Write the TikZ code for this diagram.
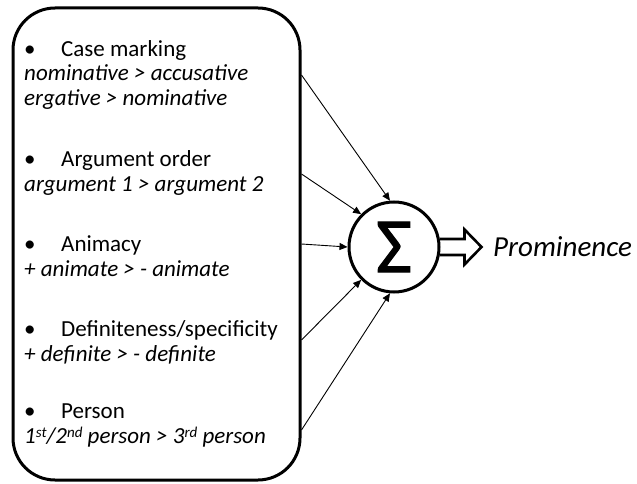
\documentclass[tikz,border=0pt]{standalone}
\usepackage{fontspec}
\setmainfont{Carlito}
\newfontfamily\sigmafont[FakeBold=1.5]{Carlito}
\usetikzlibrary{arrows.meta}
\begin{document}
\begin{tikzpicture}[x=1pt,y=-1pt,
  heading/.style={anchor=base west, inner sep=0pt, font=\fontsize{23}{25}\selectfont},
  example/.style={anchor=base west, inner sep=0pt, font=\fontsize{23}{25}\selectfont\itshape},
  frame/.style={draw, line width=3pt, rounded corners=42pt},
  feed/.style={draw, line width=0.9pt, -{Triangle[length=8pt,width=7pt]}},
  sumnode/.style={circle, draw, line width=3pt, minimum size=90pt, inner sep=0pt,
    font=\fontsize{78}{78}\sigmafont},
  blockarrow/.style={draw, line width=2.6pt, line join=miter},
]
\useasboundingbox (0,0) rectangle (637,484);

% list of prominence factors
\draw[frame] (13,8) rectangle (300,480);

\newcommand{\bul}{\makebox[37pt][l]{•}}
\newcommand{\sups}[1]{\raisebox{6pt}{\fontsize{15}{15}\selectfont #1}}
\node[heading] (case)  at (24,56.7)  {\bul Case marking};
\node[example] (case1) at (24,81)    {nominative > accusative};
\node[example] (case2) at (24,105.5) {ergative > nominative};

\node[heading] (order)  at (24,166.7) {\bul Argument order};
\node[example] (order1) at (24,191.7) {argument 1 > argument 2};

\node[heading] (anim)  at (24,251.7) {\bul Animacy};
\node[example] (anim1) at (24,276.7) {+ animate > - animate};

\node[heading] (defin)  at (24,336.7) {\bul Definiteness/specificity};
\node[example] (defin1) at (24,361.7) {+ definite > - definite};

\node[heading] (pers)  at (24,418.3) {\bul Person};
\node[example] (pers1) at (24,443.3) {1\sups{st}/2\sups{nd} person > 3\sups{rd} person};

% summation unit
\node[sumnode] (sum) at (394,247) {Σ};

% inputs leaving the list
\coordinate (in1) at (301.5,75);
\coordinate (in2) at (301.5,174);
\coordinate (in3) at (301.5,244);
\coordinate (in4) at (301.5,340);
\coordinate (in5) at (301.5,430);

\draw[feed] (in1) -- (sum.95);
\draw[feed] (in2) -- (sum.135);
\draw[feed] (in3) -- (sum.180);
\draw[feed] (in4) -- (sum.225);
\draw[feed] (in5) -- (sum.265);

% output
\node[anchor=base west, inner sep=0pt, font=\fontsize{29}{31}\selectfont\itshape] (prom) at (493,256.7) {Prominence};
\draw[blockarrow] (sum.east) ++(-1,-8) -- ++(25,0) -- ++(0,-9.5) -- ++(17,17.5)
  -- ++(-17,17.5) -- ++(0,-9.5) -- ++(-25,0);
\end{tikzpicture}
\end{document}
